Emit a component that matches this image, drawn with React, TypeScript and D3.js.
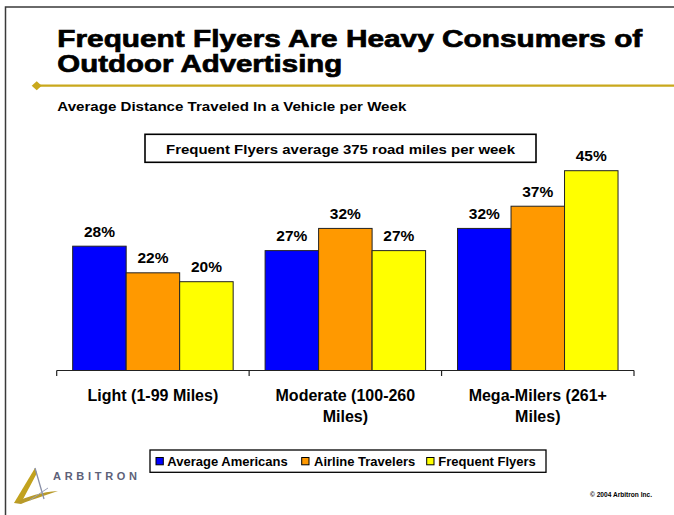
import React from "react";
import * as d3 from "d3";

const categories = ["Light (1-99 Miles)", "Moderate (100-260 Miles)", "Mega-Milers (261+ Miles)"];
const categoryLines = [["Light (1-99 Miles)"], ["Moderate (100-260", "Miles)"], ["Mega-Milers (261+", "Miles)"]];
const seriesNames = ["Average Americans", "Airline Travelers", "Frequent Flyers"];
const averageAmericans = [28, 27, 32];
const airlineTravelers = [22, 32, 37];
const frequentFlyers = [20, 27, 45];
const seriesColors = ["#0000FF", "#FF9900", "#FFFF00"];

const W = 674;
const H = 515;
const FONT = "'Liberation Sans', Arial, Helvetica, sans-serif";

export default function App() {
  const seriesValues = [averageAmericans, airlineTravelers, frequentFlyers];
  const x0 = d3.scaleBand().domain(categories).range([56.7, 634]).paddingInner(0).paddingOuter(0);
  const gw = x0.bandwidth();
  const x1 = d3.scaleBand().domain(seriesNames).range([gw * 0.083, gw * 0.917]).padding(0);
  const y = d3.scaleLinear().domain([0, 50]).range([370.5, 148.5]);
  const baseY = y(0);

  const tickXs = [...categories.map((c) => x0(c) as number), 634];

  const legendItems = [
    { name: seriesNames[0], sx: 156, tx: 167.3 },
    { name: seriesNames[1], sx: 301.7, tx: 314 },
    { name: seriesNames[2], sx: 426.7, tx: 438.3 },
  ];

  return (
    <svg
      width={W}
      height={H}
      viewBox={`0 0 ${W} ${H}`}
      style={{ position: "absolute", left: 0, top: 0, background: "#fff" }}
      fontFamily={FONT}
    >
      <rect x={0} y={0} width={W} height={H} fill="#fff" />
      {/* slide frame */}
      <rect x={5.5} y={7} width={W + 20} height={H + 20} fill="none" stroke="#3a3a3a" strokeWidth={1.5} />

      {/* title */}
      <text x={57.3} y={46.7} fontSize={24} fontWeight="bold" fill="#000" stroke="#000" strokeWidth={0.7}
        textLength={585} lengthAdjust="spacingAndGlyphs">
        Frequent Flyers Are Heavy Consumers of
      </text>
      <text x={57.3} y={71.7} fontSize={24} fontWeight="bold" fill="#000" stroke="#000" strokeWidth={0.7}
        textLength={285} lengthAdjust="spacingAndGlyphs">
        Outdoor Advertising
      </text>

      {/* gold rule */}
      <line x1={36.7} y1={85.7} x2={W} y2={85.7} stroke="#C9A81C" strokeWidth={2.2} />
      <path d={`M${36.7 - 5},85.7 L36.7,${85.7 - 4.5} L${36.7 + 5},85.7 L36.7,${85.7 + 4.5} Z`} fill="#C9A81C" />

      {/* subtitle */}
      <text x={57.3} y={111} fontSize={13} fontWeight="bold" fill="#000" textLength={349} lengthAdjust="spacingAndGlyphs">
        Average Distance Traveled In a Vehicle per Week
      </text>

      {/* callout */}
      <rect x={145} y={134.3} width={391} height={28} fill="#fff" stroke="#000" strokeWidth={1.6} />
      <text x={166} y={154} fontSize={13.5} fontWeight="bold" fill="#000" textLength={349} lengthAdjust="spacingAndGlyphs">
        Frequent Flyers average 375 road miles per week
      </text>

      {/* bars */}
      {categories.map((c, ci) => (
        <g key={c} transform={`translate(${x0(c)},0)`}>
          {seriesNames.map((s, si) => {
            const v = seriesValues[si][ci];
            const bx = x1(s) as number;
            const bw = x1.bandwidth();
            return (
              <g key={s}>
                <rect x={bx} y={y(v)} width={bw} height={baseY - y(v)} fill={seriesColors[si]} stroke="#222" strokeWidth={1} />
                <text x={bx + bw / 2} y={y(v) - 9.5} textAnchor="middle" fontSize={15.5} fontWeight="bold" fill="#000">
                  {`${v}%`}
                </text>
              </g>
            );
          })}
        </g>
      ))}

      {/* axis */}
      <line x1={56.7} y1={baseY} x2={634} y2={baseY} stroke="#222" strokeWidth={1.2} />
      {tickXs.map((tx, i) => (
        <line key={i} x1={tx} y1={baseY} x2={tx} y2={baseY + 5.5} stroke="#222" strokeWidth={1.2} />
      ))}
      {categories.map((c, ci) => (
        <text key={c} x={(x0(c) as number) + gw / 2} y={400.5} textAnchor="middle" fontSize={16} fontWeight="bold" fill="#000">
          {categoryLines[ci].map((ln, li) => (
            <tspan key={li} x={(x0(c) as number) + gw / 2} dy={li === 0 ? 0 : 21.5}>
              {ln}
            </tspan>
          ))}
        </text>
      ))}

      {/* legend */}
      <rect x={150} y={450} width={396} height={22.3} fill="#fff" stroke="#000" strokeWidth={1.3} />
      {legendItems.map((it, i) => (
        <g key={it.name}>
          <rect x={it.sx} y={457.5} width={7.3} height={7.3} fill={seriesColors[i]} stroke="#000" strokeWidth={1} />
          <text x={it.tx} y={466} fontSize={13} fontWeight="bold" fill="#000">
            {it.name}
          </text>
        </g>
      ))}

      {/* logo */}
      <g>
        <path d="M35,468 L14,503 L21,503 L37,473 Z" fill="#C2A21E" />
        <path d="M14,503 C28,496 42,492 58,491 C44,496 30,500 21,504 Z" fill="#B89A2A" />
        <path d="M35,468 L44,499" stroke="#8a90a8" strokeWidth={1.3} fill="none" />
        <path d="M30,500 L48,488" stroke="#9aa0b8" strokeWidth={1} fill="none" />
        <text x={53} y={480} fontSize={11} fontWeight="bold" fill="#5d6178" textLength={84} lengthAdjust="spacing">
          ARBITRON
        </text>
      </g>

      {/* copyright */}
      <text x={590} y={497.3} fontSize={6.5} fontWeight="bold" fill="#000" textLength={62} lengthAdjust="spacingAndGlyphs">
        © 2004 Arbitron Inc.
      </text>
    </svg>
  );
}
